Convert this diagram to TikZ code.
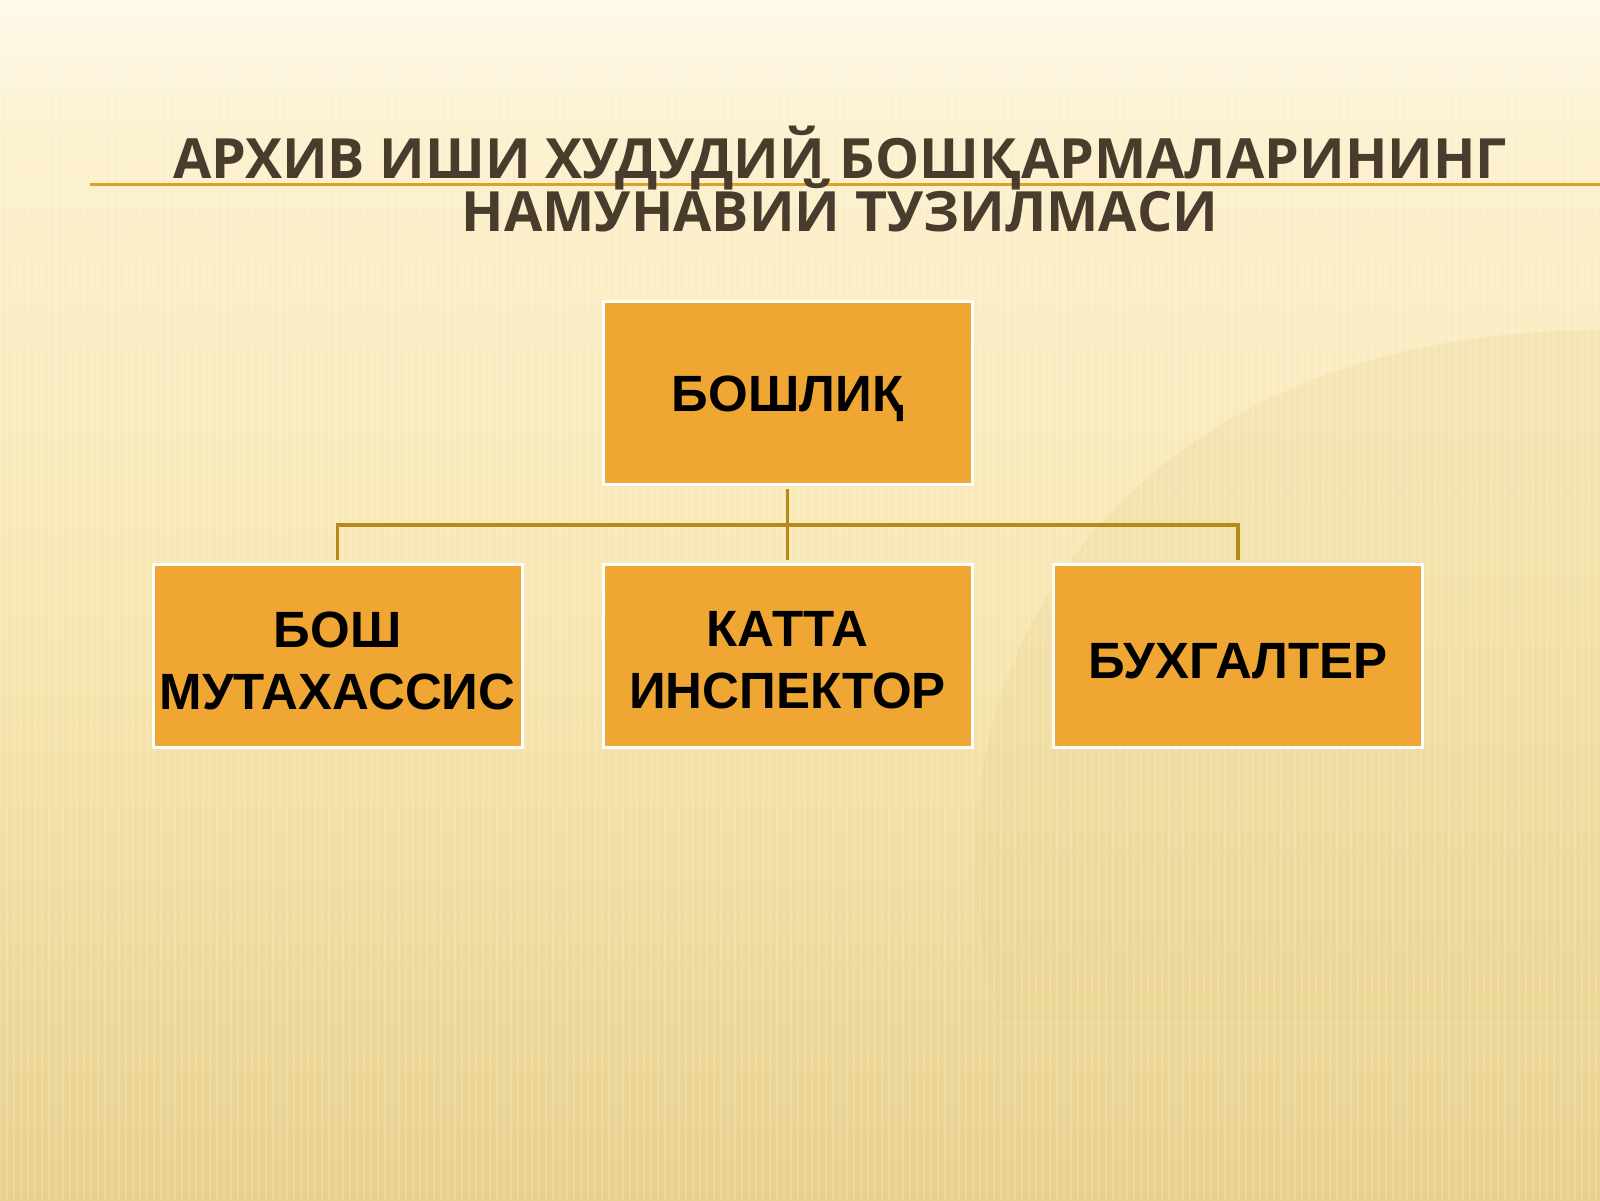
\documentclass[tikz,border=0pt]{standalone}
\usepackage{fontspec}
\setmainfont{Liberation Sans}
\newfontfamily\titlefont{Open Sans}
\usetikzlibrary{positioning}
\definecolor{bgtop}{HTML}{FDF4D8}
\definecolor{bgmid}{HTML}{F8E7B2}
\definecolor{bgbot}{HTML}{E8D18E}
\definecolor{titlecol}{HTML}{4A3C2C}
\definecolor{ruleline}{HTML}{DFA02A}
\definecolor{boxfill}{HTML}{F0A633}
\definecolor{conncol}{HTML}{B8891A}
\tikzset{
  orgbox/.style={draw=white, line width=3pt, fill=boxfill, minimum width=369pt, minimum height=183pt,
    inner sep=0pt},
  boxtext/.style={align=center, inner sep=0pt, font=\fontsize{51}{62}\selectfont\bfseries, text=black},
  titletext/.style={font=\titlefont\fontsize{55.5}{55.5}\selectfont\bfseries, text=titlecol, inner sep=0pt, anchor=base},
  conn/.style={draw=conncol, line width=3.2pt}
}
\begin{document}
\begin{tikzpicture}[x=1pt,y=-1pt]
\useasboundingbox (0,0) rectangle (1600,1200);
% background
\shade[top color=bgtop, bottom color=bgbot, middle color=bgmid] (0,0) rectangle (1600,1200);
\shade[top color=white, bottom color=bgtop, opacity=0.5] (0,0) rectangle (1600,110);
\fill[bgbot, opacity=0.25] (1600,330) .. controls (1100,330) and (900,700) .. (1000,1020) -- (1600,1020) -- cycle;
\foreach \i in {0,7,...,1600} {
  \draw[white, opacity=0.16, line width=2pt] (\i,60) -- (\i,1200);
}
% title
\draw[ruleline, line width=3pt] (90,184) -- (1600,184);
\node[titletext] (t1) at (840,178) {АРХИВ ИШИ ХУДУДИЙ БОШҚАРМАЛАРИНИНГ};
\node[titletext] (t2) at (840,231) {НАМУНАВИЙ ТУЗИЛМАСИ};
% boxes
\node[orgbox] (top) at (787.5,392.5) {};
\node[orgbox] (b1) at (337.5,655.5) {};
\node[orgbox] (b2) at (787.5,655.5) {};
\node[orgbox] (b3) at (1238,655.5) {};
\node[boxtext] (top-t) at ([yshift=-6pt]top.center) {БОШЛИҚ};
\node[boxtext] (b1-t) at ([yshift=-5pt]b1.center) {БОШ\\МУТАХАССИС};
\node[boxtext] (b2-t) at ([yshift=-5pt]b2.center) {КАТТА\\ИНСПЕКТОР};
\node[boxtext] (b3-t) at ([yshift=-6pt]b3.center) {БУХГАЛТЕР};
% connectors
\coordinate (bus) at (787.5,525);
\draw[conn] ([yshift=-3pt]top.south) -- ([yshift=3pt]b2.north);
\draw[conn] ([yshift=3pt]b1.north) |- (bus) -| ([yshift=3pt]b3.north);
\end{tikzpicture}
\end{document}
